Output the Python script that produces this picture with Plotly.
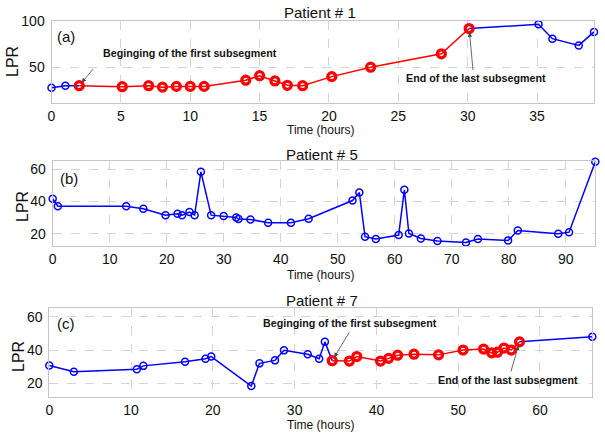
import plotly.graph_objects as go
from plotly.subplots import make_subplots

# Patient 1
p1_time = [0, 1, 2, 5.1, 7, 8, 9, 10, 11, 14, 15, 16.1, 17, 18.1, 20.2, 23, 28.1, 30.1, 35.1, 36.1, 38, 39.1]
p1_lpr = [28.4, 30.6, 30.6, 29.5, 30.6, 29, 29.8, 29.8, 29.8, 36.5, 41.3, 35.7, 31, 30.6, 40.3, 50.4, 64.8,
          91.9, 96.5, 81, 73.8, 88.3]
p1_seg = (2, 17)  # first / last index of the red subsegment

# Patient 5 (no subsegment)
p5_time = [0, 0.9, 12.9, 15.9, 19.8, 21.9, 22.7, 24.0, 24.9, 26.0, 27.8, 30.0, 32.2, 32.6, 34.7, 37.8, 41.8,
           44.9, 52.6, 53.8, 54.8, 56.7, 60.7, 61.7, 62.5, 64.6, 67.5, 72.5, 74.6, 79.9, 81.6, 88.7, 90.6, 95.2]
p5_lpr = [41.7, 37.1, 37.1, 35.5, 31.5, 32.4, 31.5, 33.4, 31.5, 58.5, 31.5, 30.9, 30.1, 29.1, 28.8, 26.8, 26.8,
          29.3, 40.6, 45.6, 18.1, 16.6, 19.1, 47.3, 20.1, 17.0, 15.4, 14.5, 16.6, 15.8, 21.9, 19.9, 20.9, 64.7]

# Patient 7
p7_time = [0, 3.0, 10.7, 11.5, 16.6, 19.1, 19.8, 24.7, 25.7, 27.6, 28.7, 31.6, 33.0, 33.7, 34.6, 36.7, 37.6,
           40.5, 41.5, 42.6, 44.6, 47.6, 50.6, 53.1, 54.1, 54.8, 55.6, 56.5, 57.5, 66.4]
p7_lpr = [30.7, 27.0, 28.5, 30.5, 33.0, 34.8, 36.1, 18.4, 32.0, 33.8, 39.8, 37.5, 34.8, 44.9, 33.6, 33.4, 36.1,
          33.4, 35.0, 36.9, 37.5, 37.1, 40.0, 40.6, 38.3, 38.7, 41.2, 40.0, 44.9, 48.0]
p7_seg = (14, 28)

titles = ['Patient # 1', 'Patient # 5', 'Patient # 7']
panel_tags = ['(a)', '(b)', '(c)']

FONT = 'Arial, Liberation Sans, sans-serif'
BLUE = '#0000ff'
RED = '#ff0000'

W, H = 605, 436


def px_x(p):
    return p / W


def px_y(p):
    return 1 - p / H


fig = make_subplots(rows=3, cols=1)


def blue_trace(x, y, row):
    fig.add_trace(go.Scatter(x=x, y=y, mode='lines+markers', line=dict(color=BLUE, width=1.5),
                             marker=dict(symbol='circle-open', size=7, color=BLUE, line=dict(width=1.5)),
                             cliponaxis=False, showlegend=False), row=row, col=1)


def red_trace(x, y, row):
    fig.add_trace(go.Scatter(x=x, y=y, mode='lines+markers', line=dict(color=RED, width=1.5),
                             marker=dict(symbol='circle-open', size=8, color=RED, line=dict(width=3.2)),
                             cliponaxis=False, showlegend=False), row=row, col=1)


a, b = p1_seg
blue_trace(p1_time[:a + 1], p1_lpr[:a + 1], 1)
blue_trace(p1_time[b:], p1_lpr[b:], 1)
red_trace(p1_time[a:b + 1], p1_lpr[a:b + 1], 1)

blue_trace(p5_time, p5_lpr, 2)

a, b = p7_seg
blue_trace(p7_time[:a + 1], p7_lpr[:a + 1], 3)
blue_trace(p7_time[b:], p7_lpr[b:], 3)
red_trace(p7_time[a:b + 1], p7_lpr[a:b + 1], 3)

# panel boxes in pixels: (left, right, top, bottom)
boxes = [(51.5, 594, 21, 103), (52.7, 595.3, 161, 246), (49.3, 592.3, 307.7, 396.7)]
x_ranges = [[0, 39.1], [0, 95.2], [0, 66.4]]
y_ranges = [[12, 100], [12.3, 65.2], [12, 65.4]]
x_ticks = [list(range(0, 40, 5)), list(range(0, 100, 10)), list(range(0, 70, 10))]
y_ticks = [[50, 100], [20, 40, 60], [20, 40, 60]]

axis_style = dict(showline=True, mirror=True, linecolor='#c4c4c4', linewidth=1, showgrid=True,
                  gridcolor='#d4d4d4', griddash='dash', gridwidth=1, zeroline=False, ticks='',
                  automargin=False, tickfont=dict(family=FONT, size=14, color='#111'))

for i in range(3):
    l, r, t, btm = boxes[i]
    fig.update_xaxes(domain=[px_x(l), px_x(r)], range=x_ranges[i], tickvals=x_ticks[i], ticklabelstandoff=0,
                     tickfont_size=13.5, row=i + 1, col=1, **axis_style)
    fig.update_yaxes(domain=[px_y(btm), px_y(t)], range=y_ranges[i], tickvals=y_ticks[i], ticklabelstandoff=3,
                     row=i + 1, col=1, **axis_style)

annotations = []


def label(text, x, y, size, bold=False, angle=0):
    annotations.append(dict(text='<b>%s</b>' % text if bold else text, x=px_x(x), y=px_y(y), xref='paper',
                            yref='paper', xanchor='center', yanchor='middle', showarrow=False,
                            textangle=angle, font=dict(family=FONT, size=size, color='#111')))


# titles, axis labels, panel tags
title_pos = [(320, 12), (322, 155), (322, 300)]
xlabel_y = [129.5, 274.5, 424.5]
ylabel_pos = [(12, 62), (22, 207), (18, 357)]
tag_pos = [(66, 37), (69, 178), (66, 323)]
for i in range(3):
    label(titles[i], title_pos[i][0], title_pos[i][1], 15)
    label('Time (hours)', 321, xlabel_y[i], 12)
    label('LPR', ylabel_pos[i][0], ylabel_pos[i][1], 16, angle=-90)
    label(panel_tags[i], tag_pos[i][0], tag_pos[i][1], 15)

# subsegment notes
label('Beginging of the first subsegment', 190, 53, 10.7, bold=True)
label('End of the last subsegment', 476, 78, 10.7, bold=True)
label('Beginging of the first subsegment', 350, 323, 10.7, bold=True)
label('End of the last subsegment', 508, 380, 10.7, bold=True)

# arrows: (xref, yref, time, lpr, ax, ay)
arrows = [('x', 'y', p1_time[p1_seg[0]], p1_lpr[p1_seg[0]], 15, -18),
          ('x', 'y', p1_time[p1_seg[1]], p1_lpr[p1_seg[1]], 4, 43),
          ('x3', 'y3', p7_time[p7_seg[0]], p7_lpr[p7_seg[0]], 18, -30),
          ('x3', 'y3', p7_time[p7_seg[1]], p7_lpr[p7_seg[1]], -9, 31)]
for xr, yr, ax_, ay_, dx, dy in arrows:
    annotations.append(dict(text='', x=ax_, y=ay_, xref=xr, yref=yr, ax=dx, ay=dy, showarrow=True,
                            arrowhead=2, arrowsize=1.1, arrowwidth=0.8, arrowcolor='#444', standoff=4))

fig.update_layout(width=W, height=H, margin=dict(l=0, r=0, t=0, b=0, autoexpand=False), plot_bgcolor='white',
                  paper_bgcolor='white', annotations=annotations, showlegend=False)

fig.write_html("out.html", config={'displayModeBar': False},
               post_script="document.body.style.margin='0';")
